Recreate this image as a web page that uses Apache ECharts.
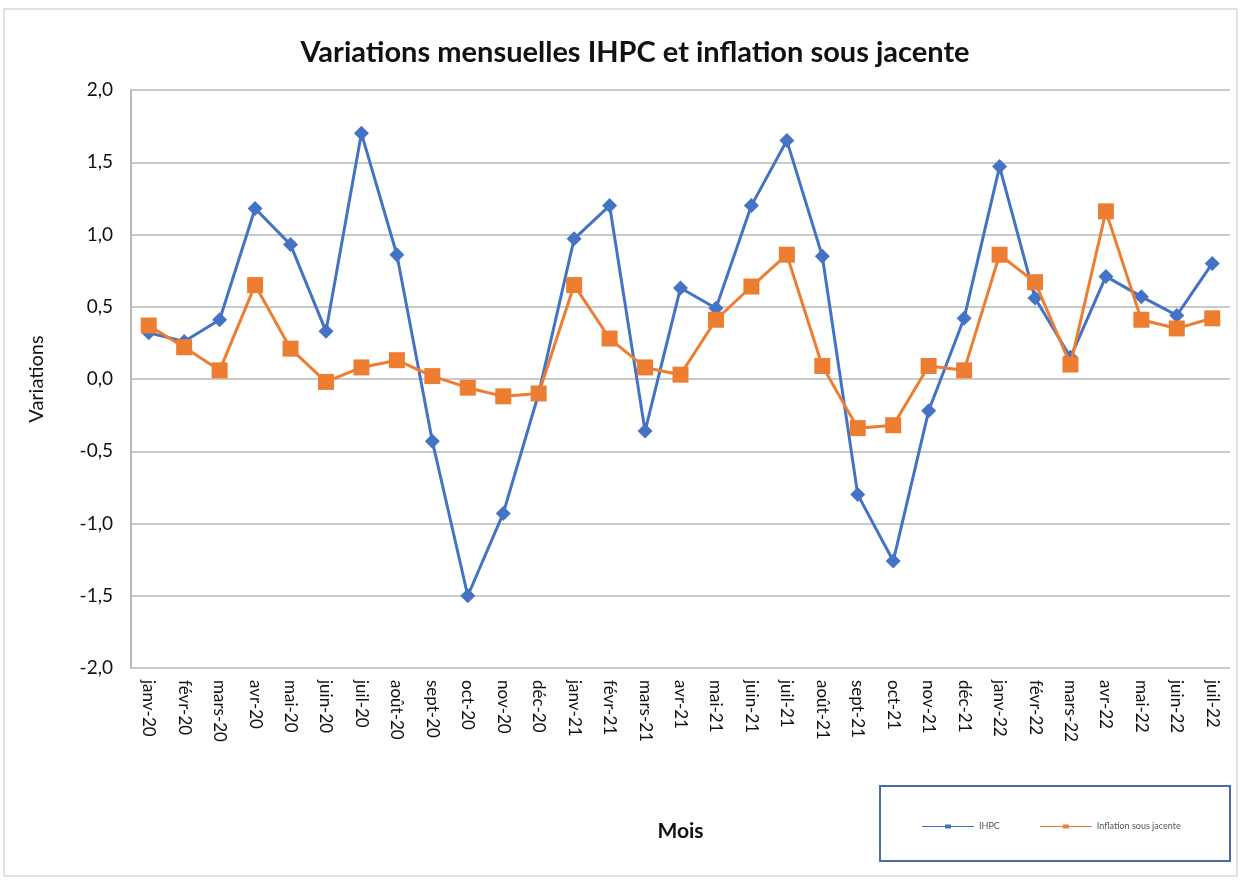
<!DOCTYPE html>
<html><head><meta charset="utf-8">
<script src="https://cdn.jsdelivr.net/npm/echarts@6/dist/echarts.min.js"></script>
<style>html,body{margin:0;padding:0;background:#fff}#c{width:1242px;height:881px}</style>
</head><body><div id="c"></div>
<script>
const categories = ['janv-20','févr-20','mars-20','avr-20','mai-20','juin-20','juil-20','août-20','sept-20','oct-20','nov-20','déc-20',
 'janv-21','févr-21','mars-21','avr-21','mai-21','juin-21','juil-21','août-21','sept-21','oct-21','nov-21','déc-21',
 'janv-22','févr-22','mars-22','avr-22','mai-22','juin-22','juil-22'];
const ihpc = [0.32,0.26,0.41,1.18,0.93,0.33,1.70,0.86,-0.43,-1.50,-0.93,-0.10,
 0.97,1.20,-0.36,0.63,0.49,1.20,1.65,0.85,-0.80,-1.26,-0.22,0.42,
 1.47,0.56,0.15,0.71,0.57,0.44,0.80];
const sousJacente = [0.37,0.22,0.06,0.65,0.21,-0.02,0.08,0.13,0.02,-0.06,-0.12,-0.10,
 0.65,0.28,0.08,0.03,0.41,0.64,0.86,0.09,-0.34,-0.32,0.09,0.06,
 0.86,0.67,0.10,1.16,0.41,0.35,0.42];
const yTicks = {min:-2, max:2, interval:0.5};

const font = 'Lato, "Open Sans", sans-serif';
const legendIcon = 'path://M0,4.4L23,4.4L23,3L29,3L29,4.4L52,4.4L52,5.6L29,5.6L29,7L23,7L23,5.6L0,5.6Z';
const chart = echarts.init(document.getElementById('c'));
chart.setOption({
  animation:false,
  backgroundColor:'#fff',
  title:{text:'Variations mensuelles IHPC et inflation sous jacente', left:630, top:33, textAlign:'center',
    textStyle:{fontFamily:font, fontSize:29, fontWeight:'bold', color:'#111'}},
  graphic:[
    {type:'rect', shape:{x:4,y:9,width:1233,height:867}, style:{fill:'none', stroke:'#b8c4d6', lineWidth:1}, silent:true},
    {type:'rect', shape:{x:880,y:786,width:350,height:75}, style:{fill:'#fff', stroke:'#4a6aaa', lineWidth:2}, silent:true, z:-1}
  ],
  legend:{left:917, top:817, itemWidth:52, itemHeight:10, itemGap:40,
    textStyle:{fontFamily:font, fontSize:9, color:'#555'},
    data:[{name:'IHPC', icon:legendIcon},{name:'Inflation sous jacente', icon:legendIcon}]},
  grid:{left:131, right:12, top:90, bottom:213},
  xAxis:{type:'category', data:categories, boundaryGap:true,
    name:'Mois', nameLocation:'middle', nameGap:153,
    nameTextStyle:{fontFamily:font, fontSize:21, fontWeight:'bold', color:'#111'},
    axisLine:{show:false}, axisTick:{show:false},
    axisLabel:{rotate:-90, interval:0, fontFamily:font, fontSize:17, color:'#111', margin:12}},
  yAxis:{type:'value', min:yTicks.min, max:yTicks.max, interval:yTicks.interval,
    name:'Variations', nameLocation:'middle', nameGap:84, nameRotate:90,
    nameTextStyle:{fontFamily:font, fontSize:20, color:'#111'},
    axisLine:{show:true, lineStyle:{color:'#a0a0a0', width:1.5}}, axisTick:{show:false},
    splitLine:{lineStyle:{color:'#b8b8b8', width:1.5}},
    axisLabel:{fontFamily:font, fontSize:19, color:'#111', margin:18,
      formatter:v=>v.toFixed(1).replace('.',',')}},
  series:[
    {name:'IHPC', type:'line', data:ihpc, color:'#4472c4', symbol:'diamond', symbolSize:15,
      lineStyle:{width:3}, itemStyle:{color:'#4472c4'}, z:2},
    {name:'Inflation sous jacente', type:'line', data:sousJacente, color:'#ed7d31', symbol:'rect', symbolSize:16,
      lineStyle:{width:3}, itemStyle:{color:'#ed7d31'}, z:3}
  ]
});
</script></body></html>
